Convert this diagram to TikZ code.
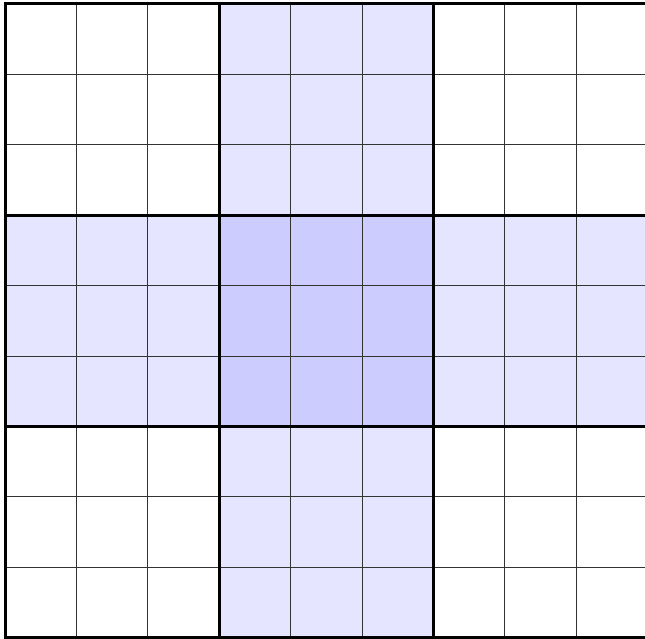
\documentclass[tikz,border=0pt]{standalone}
\usepackage{tikz}
\definecolor{boxband}{RGB}{229,229,255}
\definecolor{boxcross}{RGB}{204,204,255}

\begin{document}
\begin{tikzpicture}[x=1pt,y=1pt,
    thingrid/.style={line width=0.8pt,black!80},
    thickgrid/.style={line width=3pt,black},
    line cap=rect]
        \useasboundingbox (0,0) rectangle (645,-639);
        \begin{scope}[shift={(5,-4)},x=71.4pt,y=-70.4pt]
        % shaded bands and centre box
        \fill[boxband] (3,0) rectangle (6,9);
        \fill[boxband] (0,3) rectangle (9,6);
        \fill[boxcross] (3,3) rectangle (6,6);
        % cells
        \foreach \k in {1,2,4,5,7,8} {
            \draw[thingrid] (\k,0) -- (\k,9);
            \draw[thingrid] (0,\k) -- (9,\k);
        }
        % boxes
        \foreach \k in {0,3,6,9} {
            \draw[thickgrid] (\k,0) -- (\k,9);
            \draw[thickgrid] (0,\k) -- (9,\k);
        }
        \end{scope}
      \end{tikzpicture}
\end{document}
